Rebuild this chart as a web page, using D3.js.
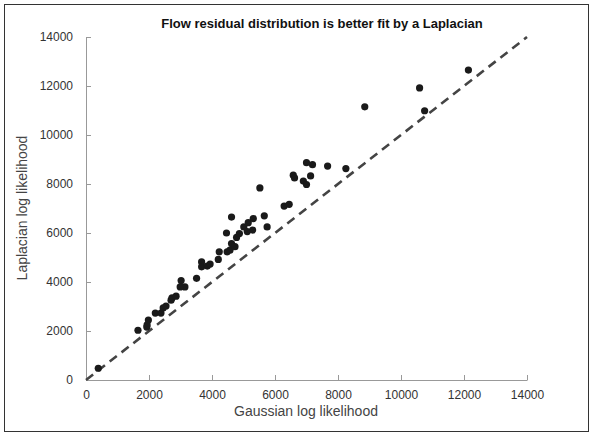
<!DOCTYPE html>
<html><head><meta charset="utf-8">
<script src="https://cdn.jsdelivr.net/npm/d3@7"></script>
<style>body{margin:0;background:#fff;} svg{display:block;font-family:"Liberation Sans",Arial,sans-serif;}</style>
</head><body>
<svg id="c" width="593" height="435"></svg>
<script>
const gaussianLL = [390,1650,1930,1940,1980,2200,2380,2450,2540,2700,2730,2860,3020,3140,2990,3510,3670,3670,3850,3940,4200,4230,4480,4570,4620,4460,4620,4730,4780,4870,5010,5150,5120,5290,5310,5660,5750,5520,6290,6450,6580,6620,6900,7000,7130,7000,7190,7670,8250,8850,10590,10750,12140];
const laplacianLL = [480,2030,2160,2250,2450,2730,2730,2940,3020,3260,3350,3420,4060,3800,3800,4150,4820,4620,4650,4730,4920,5230,5230,5300,5570,6000,6650,5440,5820,5980,6250,6420,6060,6120,6590,6700,6250,7840,7100,7170,8360,8250,8120,7980,8330,8870,8790,8730,8630,11150,11920,10990,12650];
const axisTicks = [0,2000,4000,6000,8000,10000,12000,14000];
const refLine = [0,14000];
const title = "Flow residual distribution is better fit by a Laplacian";
const xTitle = "Gaussian log likelihood";
const yTitle = "Laplacian log likelihood";

const svg = d3.select("#c");
svg.append("rect").attr("x",4.5).attr("y",4.5).attr("width",584).attr("height",427)
  .attr("fill","none").attr("stroke","#333").attr("stroke-width",1);

const x = d3.scaleLinear().domain([0,14000]).range([86,527]);
const y = d3.scaleLinear().domain([0,14000]).range([380,37]);
const fmt = d3.format("d");

const xa = svg.append("g").attr("transform","translate(0,380)")
  .call(d3.axisBottom(x).tickValues(axisTicks).tickFormat(fmt).tickSizeInner(-5).tickSizeOuter(0).tickPadding(10));
const ya = svg.append("g").attr("transform","translate(86,0)")
  .call(d3.axisLeft(y).tickValues(axisTicks).tickFormat(fmt).tickSizeInner(-5).tickSizeOuter(0).tickPadding(13));
[xa,ya].forEach(a=>{
  a.select(".domain").attr("stroke","#999");
  a.selectAll(".tick line").attr("stroke","#999");
  a.selectAll(".tick text").attr("fill","#333").style("font-size","12px").style("font-family","'Liberation Sans',Arial,sans-serif");
});

svg.append("line")
  .attr("x1",x(refLine[0])).attr("y1",y(refLine[0]))
  .attr("x2",x(refLine[1])).attr("y2",y(refLine[1]))
  .attr("stroke","#444").attr("stroke-width",2.6).attr("stroke-dasharray","9,6");

svg.append("g").selectAll("circle").data(gaussianLL).join("circle")
  .attr("cx",(d)=>x(d)).attr("cy",(d,i)=>y(laplacianLL[i])).attr("r",3.6).attr("fill","#1a1a1a");

svg.append("text").attr("x",322).attr("y",28).attr("text-anchor","middle")
  .style("font-size","13px").style("font-weight","bold").attr("fill","#111").text(title);
svg.append("text").attr("x",306).attr("y",416).attr("text-anchor","middle")
  .style("font-size","14px").attr("fill","#444").text(xTitle);
svg.append("text").attr("transform","translate(27,208) rotate(-90)").attr("text-anchor","middle")
  .style("font-size","14px").attr("fill","#444").text(yTitle);
</script>
</body></html>
